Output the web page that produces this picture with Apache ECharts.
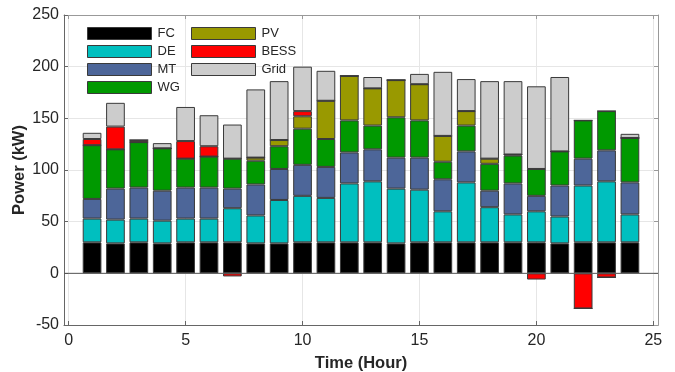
<!DOCTYPE html>
<html>
<head>
<meta charset="utf-8">
<script src="https://cdn.jsdelivr.net/npm/echarts@6/dist/echarts.min.js"></script>
<style>
html,body{margin:0;padding:0;background:#fff;}
#main{width:675px;height:372px;}
</style>
</head>
<body>
<div id="main"></div>
<script>
// hours 1..24
var hours = [1,2,3,4,5,6,7,8,9,10,11,12,13,14,15,16,17,18,19,20,21,22,23,24];
var fc   = [30,29,30,29,30,30,30,29,29,30,30,30,30,29,30,30,30,30,30,30,29,30,30,30];
var de   = [23,23,23,22,23,23,33,27,42,45,43,57,59,53,51,30,58,34,27,30,26,55,59,27];
var mt   = [19,30,30,29,30,30,19,30,30,30,30,30,31,30,31,31,30,16,30,15,30,26,30,31];
var wg   = [52,38,44,41,28,30,29,23,22,35,27,31,23,39,36,17,25,26,27,26,33,37,38,43];
var pv   = [0,0,0,0,0,0,0,3,6,12,37,43,36,36,35,25,14,5,1,0,0,0,0,0];
var bess = [6,22,2,0,17,10,-3,0,0,5,0,0,0,0,0,0,0,0,0,-6,0,-34,-4,0];
var grid = [6,23,0,5,33,30,33,66,57,43,29,0,11,0,10,62,31,75,71,80,72,0,0,4];
var xTicks = [0,5,10,15,20,25];

var names  = ["FC","DE","MT","WG","PV","BESS","Grid"];
var values = [fc, de, mt, wg, pv, bess, grid];
var colors = ["#000000","#00bfbf","#4d6699","#009900","#999900","#ff0000","#cccccc"];

var txt = "#262626";
var font = "Liberation Sans";

// plot box and x limits (like matlab xlim)
var L = 64, R = 17, T = 15, B = 47;
var xmin = -0.2, xmax = 25.2;
var unit = (675 - L - R) / (xmax - xmin);
// the bar grid covers hour 0.5 .. 24.5 so category bands sit on the hours
var bL = L + (hours[0] - 0.5 - xmin) * unit;
var bR = R + (xmax - hours[hours.length - 1] - 0.5) * unit;

var series = [];
for (var s = 0; s < names.length; s++) {
    series.push({
        name: names[s],
        type: "bar",
        stack: "power",
        xAxisIndex: 2,
        yAxisIndex: 2,
        barWidth: "80%",
        data: values[s],
        itemStyle: {color: colors[s], borderColor: "#3a3a3a", borderWidth: 1},
        emphasis: {disabled: true}
    });
}
// bar baseline at zero across the whole box
series.push({
    type: "line",
    xAxisIndex: 0,
    yAxisIndex: 0,
    data: [[xmin, 0], [xmax, 0]],
    symbol: "none",
    silent: true,
    z: 3,
    lineStyle: {color: "#555", width: 1}
});

var myChart = echarts.init(document.getElementById("main"));
var legendBase = {
    orient: "vertical",
    top: 27,
    padding: 0,
    icon: "rect",
    itemWidth: 64, itemHeight: 12, itemGap: 5,
    itemStyle: {borderColor: "#3a3a3a", borderWidth: 1},
    textStyle: {color: txt, fontSize: 13, fontFamily: font, padding: [0,0,0,1]}
};
var option = {
    animation: false,
    textStyle: {fontFamily: font},
    grid: [
        {left: L, right: R, top: T, bottom: B, containLabel: false, outerBoundsMode: "none"},
        {left: bL, right: bR, top: T, bottom: B, containLabel: false, outerBoundsMode: "none"}
    ],
    legend: [
        Object.assign({}, legendBase, {data: names.slice(0, 4), left: 87}),
        Object.assign({}, legendBase, {data: names.slice(4), left: 191})
    ],
    xAxis: [{
        type: "value",
        gridIndex: 0,
        min: xmin, max: xmax,
        name: "Time (Hour)",
        nameLocation: "middle",
        nameGap: 30,
        nameMoveOverlap: false,
        nameTextStyle: {fontWeight: "bold", fontSize: 16.5, color: txt, fontFamily: font},
        axisLine: {show: true, onZero: false, lineStyle: {color: "#666"}},
        axisTick: {show: true, inside: true, length: 4, customValues: xTicks, lineStyle: {color: "#666"}},
        axisLabel: {customValues: xTicks, fontSize: 16, color: txt, margin: 8, fontFamily: font},
        splitLine: {show: true, lineStyle: {color: "#e6e6e6"}}
    }, {
        type: "value",
        gridIndex: 0,
        position: "top",
        min: xmin, max: xmax,
        axisLine: {show: true, onZero: false, lineStyle: {color: "#999"}},
        axisTick: {show: true, inside: true, length: 4, customValues: xTicks, lineStyle: {color: "#999"}},
        axisLabel: {show: false},
        splitLine: {show: false}
    }, {
        type: "category",
        gridIndex: 1,
        data: hours,
        show: false
    }],
    yAxis: [{
        type: "value",
        gridIndex: 0,
        min: -50, max: 250, interval: 50,
        name: "Power (kW)",
        nameLocation: "middle",
        nameGap: 36,
        nameMoveOverlap: false,
        nameTextStyle: {fontWeight: "bold", fontSize: 16.5, color: txt, fontFamily: font},
        axisLine: {show: true, onZero: false, lineStyle: {color: "#666"}},
        axisTick: {show: true, inside: true, length: 4, lineStyle: {color: "#666"}},
        axisLabel: {fontSize: 16, color: txt, margin: 5, fontFamily: font},
        splitLine: {show: true, lineStyle: {color: "#e6e6e6"}}
    }, {
        type: "value",
        gridIndex: 0,
        position: "right",
        min: -50, max: 250, interval: 50,
        axisLine: {show: true, onZero: false, lineStyle: {color: "#999"}},
        axisTick: {show: true, inside: true, length: 4, lineStyle: {color: "#999"}},
        axisLabel: {show: false},
        splitLine: {show: false}
    }, {
        type: "value",
        gridIndex: 1,
        min: -50, max: 250,
        show: false
    }],
    series: series
};
myChart.setOption(option);
</script>
</body>
</html>
